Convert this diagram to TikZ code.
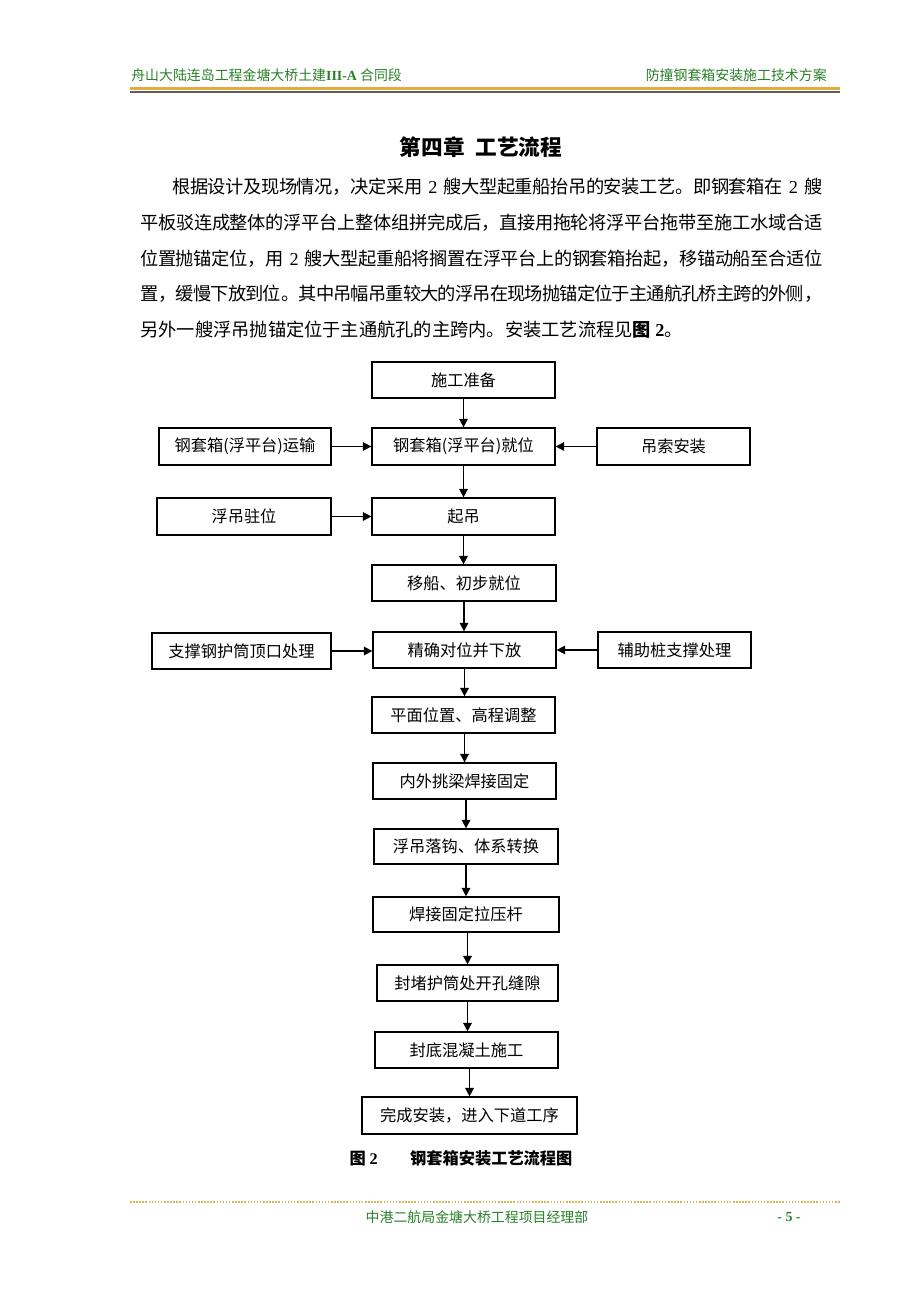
\documentclass[tikz,border=0pt]{standalone}
\usepackage{fontspec}
\setmainfont{Noto Sans CJK SC}
\newfontfamily\latf{Liberation Serif}
\usetikzlibrary{arrows.meta}
\XeTeXlinebreaklocale "zh"
\XeTeXlinebreakskip=0pt plus 4pt minus 0.7pt
\newdimen\pxl \pxl=0.6468pt
\definecolor{hdgreen}{RGB}{40,128,40}
\definecolor{hdgold}{RGB}{226,172,64}
\definecolor{hddark}{RGB}{105,92,80}
\definecolor{ftgold}{RGB}{214,184,88}
\newcommand\bodyline[3]{\node[anchor=west,inner sep=0,font=\fontsize{11.8}{14}\selectfont] (#1) at #2 {#3};}
\newcommand\jline[4]{\node[anchor=west,inner sep=0,text width=#3\pxl,font=\fontsize{11.8}{14}\selectfont] (#1) at #2 {\parindent=0pt\parfillskip=0pt\rightskip=0pt #4\par};}
\newcommand\bx[6]{\node[proc,minimum width=#4\pxl,minimum height=#5\pxl] (#1) at (#2,#3) {#6};}
\begin{document}
\begin{tikzpicture}[x=\pxl,y=-\pxl,
  proc/.style={draw,line width=0.8pt,inner sep=0pt,font=\fontsize{10.5}{12}\selectfont},
  arr/.style={-{Triangle[length=5.5pt,width=5.5pt]},line width=1pt}]
\useasboundingbox (0,0) rectangle (920,1302);
% header
\node[anchor=west,inner sep=0,text=hdgreen,font=\fontsize{9}{10}\selectfont] (hl) at (131,75) {舟山大陆连岛工程金塘大桥土建{\latf\bfseries III-A} 合同段};
\node[anchor=east,inner sep=0,text=hdgreen,font=\fontsize{9}{10}\selectfont] (hr) at (827,75) {防撞钢套箱安装施工技术方案};
\draw[hdgold,line width=2pt] (130,88.5) -- (840,88.5);
\draw[hddark,line width=1pt] (130,92) -- (840,92);
% title and text
\node[inner sep=0,font=\fontsize{14}{16}\selectfont\bfseries] (title) at (481,147) {第四章\hspace{0.5em}工艺流程};
\jline{l1}{(172,187)}{650}{根据设计及现场情况，决定采用 {\latf 2} 艘大型起重船抬吊的安装工艺。即钢套箱在 {\latf 2} 艘}
\jline{l2}{(140,223)}{682}{平板驳连成整体的浮平台上整体组拼完成后，直接用拖轮将浮平台拖带至施工水域合适}
\jline{l3}{(140,259)}{682}{位置抛锚定位，用 {\latf 2} 艘大型起重船将搁置在浮平台上的钢套箱抬起，移锚动船至合适位}
\jline{l4}{(140,294)}{682}{置，缓慢下放到位。其中吊幅吊重较大的浮吊在现场抛锚定位于主通航孔桥主跨的外侧，}
\bodyline{l5}{(140,330)}{另外一艘浮吊抛锚定位于主通航孔的主跨内。安装工艺流程见{\bfseries 图 {\latf 2}}。}
% flowchart main column
\bx{prep}{463.5}{380}{183}{36}{施工准备}
\bx{pos}{463.5}{446.5}{183}{37}{钢套箱(浮平台)就位}
\bx{lift}{463.5}{516.5}{183}{37}{起吊}
\bx{move}{464}{583}{184}{36}{移船、初步就位}
\bx{exact}{464.5}{650}{183}{36}{精确对位并下放}
\bx{adj}{463.5}{715}{183}{36}{平面位置、高程调整}
\bx{beam}{464.5}{781}{183}{36}{内外挑梁焊接固定}
\bx{hook}{466}{846.5}{184}{35}{浮吊落钩、体系转换}
\bx{rods}{466}{914.5}{186}{35}{焊接固定拉压杆}
\bx{seal}{467.5}{983}{181}{36}{封堵护筒处开孔缝隙}
\bx{conc}{466.5}{1050}{183}{36}{封底混凝土施工}
\bx{done}{469.5}{1115.5}{215}{37}{完成安装，进入下道工序}
% side boxes
\bx{trans}{245}{446.5}{172}{37}{钢套箱(浮平台)运输}
\bx{sling}{673.5}{446.5}{153}{37}{吊索安装}
\bx{crane}{244}{516.5}{174}{37}{浮吊驻位}
\bx{supp}{241.5}{651}{179}{36}{支撑钢护筒顶口处理}
\bx{aux}{674.5}{650}{153}{36}{辅助桩支撑处理}
% arrows
\draw[arr] (prep.south) -- (pos.north);
\draw[arr] (pos.south) -- (lift.north);
\draw[arr] (lift.south) -- (lift.south |- move.north);
\draw[arr] (move.south) -- (move.south |- exact.north);
\draw[arr] (exact.south) -- (exact.south |- adj.north);
\draw[arr] (adj.south -| beam.north) -- (beam.north);
\draw[arr] (beam.south -| hook.north) -- (hook.north);
\draw[arr] (hook.south -| rods.north) -- (rods.north);
\draw[arr] (rods.south -| seal.north) -- (seal.north);
\draw[arr] (seal.south) -- (seal.south |- conc.north);
\draw[arr] (conc.south -| done.north) -- (done.north);
\draw[arr] (trans.east) -- (pos.west);
\draw[arr] (sling.west) -- (pos.east);
\draw[arr] (crane.east) -- (lift.west);
\draw[arr] (supp.east) -- (supp.east -| exact.west);
\draw[arr] (aux.west) -- (aux.west -| exact.east);
% caption
\node[inner sep=0,font=\fontsize{10.5}{12}\selectfont\bfseries] (cap) at (461,1158) {图 {\latf 2}\hspace{2em}钢套箱安装工艺流程图};
% footer
\draw[ftgold,line width=1.3pt,dash pattern=on 1pt off 1pt] (130,1202) -- (840,1202);
\node[inner sep=0,text=hdgreen,font=\fontsize{9}{10}\selectfont] (ft) at (477,1217) {中港二航局金塘大桥工程项目经理部};
\node[inner sep=0,text=hdgreen,font=\fontsize{9}{10}\selectfont] (pg) at (789,1217) {\latf\bfseries - 5 -};
\end{tikzpicture}
\end{document}
